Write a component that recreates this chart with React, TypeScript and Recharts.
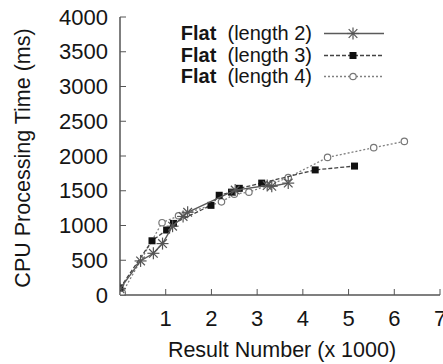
import { Legend, Scatter, ScatterChart, XAxis, YAxis } from "recharts";

const LEN2_X = [0, 0.45, 0.73, 0.93, 1.15, 1.38, 1.48, 2.52, 3.22, 3.32, 3.68];
const LEN2_Y = [90, 490, 600, 740, 990, 1130, 1190, 1510, 1575, 1565, 1610];

const LEN3_X = [0, 0.7, 1.02, 1.17, 1.99, 2.17, 2.44, 2.61, 3.1, 4.27, 5.13];
const LEN3_Y = [100, 780, 935, 1030, 1290, 1435, 1480, 1535, 1610, 1800, 1855];

const LEN4_X = [0.05, 0.92, 1.28, 2.22, 2.5, 2.82, 3.33, 3.68, 4.54, 5.55, 6.22];
const LEN4_Y = [30, 1040, 1140, 1340, 1450, 1480, 1600, 1690, 1980, 2120, 2210];

const X_TICKS = [1, 2, 3, 4, 5, 6, 7];
const Y_TICKS = [0, 500, 1000, 1500, 2000, 2500, 3000, 3500, 4000];

const SERIES_NAMES = ["(length 2)", "(length 3)", "(length 4)"];

const FONT = "'Liberation Sans', Arial, Helvetica, sans-serif";
const TEXT = "#151515";
const FRAME = "#555";
const TICK_LEN = 6;

const toPoints = (xs: number[], ys: number[]) => xs.map((x, i) => ({ x, y: ys[i] }));

const len2 = toPoints(LEN2_X, LEN2_Y);
const len3 = toPoints(LEN3_X, LEN3_Y);
const len4 = toPoints(LEN4_X, LEN4_Y);

const Star = ({ cx, cy }: any) => {
  const r = 6;
  const d = r * 0.72;
  return (
    <g stroke="#555" strokeWidth={1.2}>
      <line x1={cx - r} y1={cy} x2={cx + r} y2={cy} />
      <line x1={cx} y1={cy - r} x2={cx} y2={cy + r} />
      <line x1={cx - d} y1={cy - d} x2={cx + d} y2={cy + d} />
      <line x1={cx - d} y1={cy + d} x2={cx + d} y2={cy - d} />
    </g>
  );
};

const Square = ({ cx, cy }: any) => <rect x={cx - 3.5} y={cy - 3.5} width={7} height={7} fill="#111" />;

const Ring = ({ cx, cy }: any) => (
  <circle cx={cx} cy={cy} r={3.2} fill="#fff" stroke="#777" strokeWidth={1.2} />
);

const LINE_STYLES = [
  { stroke: "#5a5a5a", strokeWidth: 1.4 },
  { stroke: "#444", strokeWidth: 1.3, strokeDasharray: "4 2" },
  { stroke: "#808080", strokeWidth: 1.3, strokeDasharray: "2 2" },
];
const MARKERS = [Star, Square, Ring];

// tick renderers: gnuplot style, ticks point into the plot
const leftTick = (p: any) => (
  <g>
    <line x1={p.x + 12} x2={p.x + 12 + TICK_LEN} y1={p.y} y2={p.y} stroke={FRAME} />
    <text x={p.x} y={p.y} textAnchor="end" dominantBaseline="central" fontSize={22} fontFamily={FONT} fill={TEXT}>
      {p.payload.value}
    </text>
  </g>
);

const bottomTick = (p: any) => (
  <g>
    <line x1={p.x} x2={p.x} y1={p.y - 23} y2={p.y - 23 - TICK_LEN} stroke={FRAME} />
    <text x={p.x} y={p.y} textAnchor="middle" dominantBaseline="central" fontSize={22} fontFamily={FONT} fill={TEXT}>
      {p.payload.value}
    </text>
  </g>
);

const topTick = (p: any) => <line x1={p.x} x2={p.x} y1={p.y} y2={p.y + TICK_LEN} stroke={FRAME} />;
const rightTick = (p: any) => <line x1={p.x} x2={p.x - TICK_LEN} y1={p.y} y2={p.y} stroke={FRAME} />;

const yTitle = ({ viewBox }: any) => {
  const cx = viewBox.x + 23;
  const cy = viewBox.y + viewBox.height / 2 + 2;
  return (
    <text
      x={cx}
      y={cy}
      transform={`rotate(-90, ${cx}, ${cy})`}
      textAnchor="middle"
      dominantBaseline="central"
      fontSize={21.5}
      fontFamily={FONT}
      fill={TEXT}
    >
      CPU Processing Time (ms)
    </text>
  );
};

const xTitle = ({ viewBox }: any) => (
  <text
    x={viewBox.x + viewBox.width / 2 + 2}
    y={viewBox.y + 55}
    textAnchor="middle"
    dominantBaseline="central"
    fontSize={21.5}
    fontFamily={FONT}
    fill={TEXT}
  >
    Result Number (x 1000)
  </text>
);

function LegendBox() {
  return (
    <div style={{ fontFamily: FONT, fontSize: 20, color: TEXT }}>
      {SERIES_NAMES.map((name, i) => {
        const Marker = MARKERS[i];
        return (
          <div key={name} style={{ display: "flex", alignItems: "center", height: 21.5 }}>
            <div style={{ width: 162, textAlign: "right", whiteSpace: "pre", lineHeight: "21px" }}>
              <b>Flat</b>
              {"  " + name}
            </div>
            <svg width={72} height={21} style={{ marginLeft: 11 }}>
              <line x1={1} x2={61} y1={10.5} y2={10.5} {...LINE_STYLES[i]} />
              <Marker cx={30} cy={10.5} />
            </svg>
          </div>
        );
      })}
    </div>
  );
}

export default function App() {
  return (
    <div style={{ position: "absolute", left: 0, top: 0, background: "#fff" }}>
      <ScatterChart width={443} height={364} margin={{ top: 17, right: 3, bottom: 0, left: 0 }}>
        <XAxis
          xAxisId={0}
          type="number"
          dataKey="x"
          domain={[0, 7]}
          ticks={X_TICKS}
          interval={0}
          allowDataOverflow
          height={69}
          axisLine={{ stroke: FRAME, strokeWidth: 1.5 }}
          tickLine={false}
          tickSize={0}
          tickMargin={23}
          tick={bottomTick}
          label={xTitle}
        />
        <XAxis
          xAxisId="top"
          orientation="top"
          type="number"
          domain={[0, 7]}
          ticks={X_TICKS}
          interval={0}
          allowDataOverflow
          height={0}
          axisLine={{ stroke: FRAME, strokeWidth: 1.5 }}
          tickLine={false}
          tickSize={0}
          tickMargin={0}
          tick={topTick}
        />
        <YAxis
          yAxisId={0}
          type="number"
          dataKey="y"
          domain={[0, 4000]}
          ticks={Y_TICKS}
          interval={0}
          allowDataOverflow
          width={120}
          axisLine={{ stroke: FRAME, strokeWidth: 1.5 }}
          tickLine={false}
          tickSize={0}
          tickMargin={12}
          tick={leftTick}
          label={yTitle}
        />
        <YAxis
          yAxisId="right"
          orientation="right"
          type="number"
          domain={[0, 4000]}
          ticks={Y_TICKS}
          interval={0}
          allowDataOverflow
          width={0}
          axisLine={{ stroke: FRAME, strokeWidth: 1.5 }}
          tickLine={false}
          tickSize={0}
          tickMargin={0}
          tick={rightTick}
        />
        <Legend
          content={() => <LegendBox />}
          verticalAlign="middle"
          wrapperStyle={{ position: "absolute", left: 150, top: 23, width: 250, height: 65 }}
        />
        <Scatter
          name="length 4"
          data={len4}
          line={LINE_STYLES[2]}
          shape={Ring}
          isAnimationActive={false}
        />
        <Scatter
          name="length 3"
          data={len3}
          line={LINE_STYLES[1]}
          shape={Square}
          isAnimationActive={false}
        />
        <Scatter
          name="length 2"
          data={len2}
          line={LINE_STYLES[0]}
          shape={Star}
          isAnimationActive={false}
        />
      </ScatterChart>
    </div>
  );
}
